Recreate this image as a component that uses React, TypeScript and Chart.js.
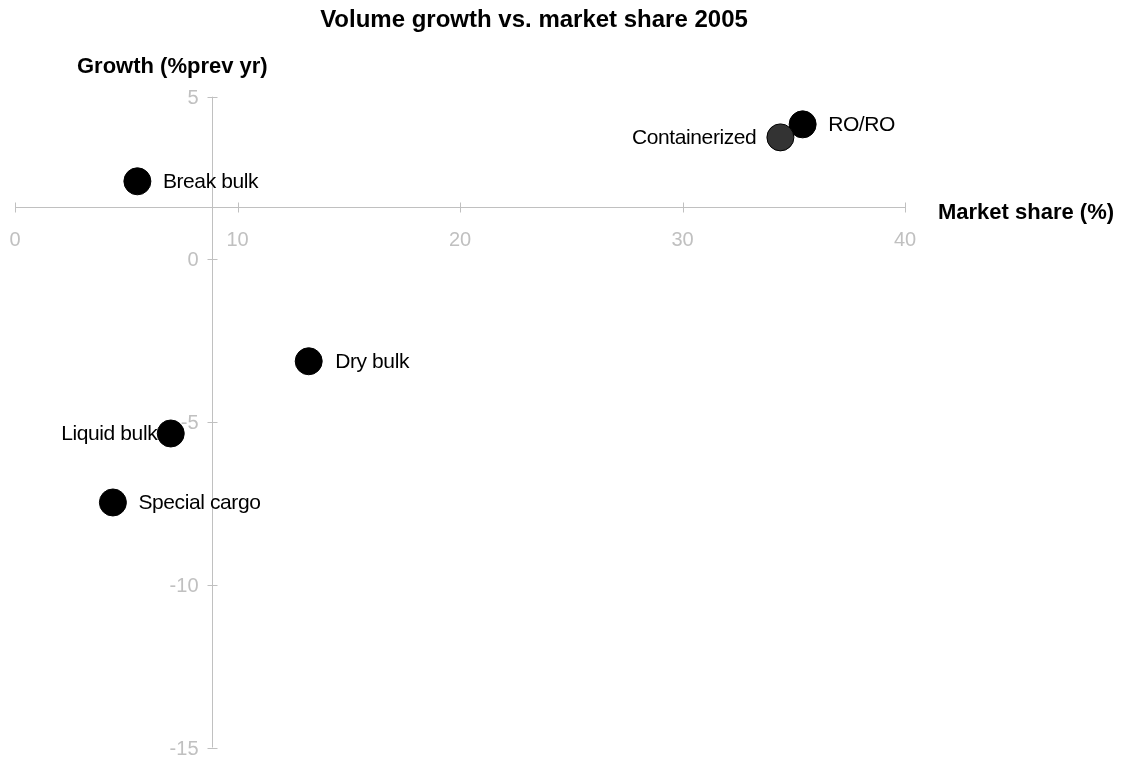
import React, { useEffect, useRef } from "react";
import { Chart, registerables } from "chart.js";

Chart.register(...registerables);

// ---- data ----
const categories = ["Break bulk", "RO/RO", "Containerized", "Dry bulk", "Liquid bulk", "Special cargo"];
const marketShare = [5.5, 35.4, 34.4, 13.2, 7.0, 4.4];
const growth = [2.4, 4.15, 3.75, -3.13, -5.35, -7.47];
const pointColors = ["#000000", "#000000", "#333333", "#000000", "#000000", "#000000"];
const xTicks = [0, 10, 20, 30, 40];
const yTicks = [5, 0, -5, -10, -15];
const xAxisCrossesAtGrowth = 1.6;
const yAxisCrossesAtShare = 8.85;
const titleText = "Volume growth vs. market share 2005";
const xTitleText = "Market share (%)";
const yTitleText = "Growth (%prev yr)";

// ---- label placement (style) ----
const labelSide = ["right", "right", "left", "right", "left", "right"];
const labelGap = [25.5, 25.5, 24, 26.5, 13.5, 25.5];

const AXIS_COLOR = "#c0c0c0";
const TEXT_FONT = "'Liberation Sans', Arial, sans-serif";

const overlayPlugin = {
  id: "overlay",
  beforeDatasetsDraw(chart: any) {
    const ctx = chart.ctx as CanvasRenderingContext2D;
    const xs = chart.scales.x;
    const ys = chart.scales.y;
    const axisY = Math.round(ys.getPixelForValue(xAxisCrossesAtGrowth)) + 0.5;
    const axisX = Math.round(xs.getPixelForValue(yAxisCrossesAtShare)) + 0.5;
    ctx.save();
    ctx.strokeStyle = AXIS_COLOR;
    ctx.lineWidth = 1;
    // x axis line
    ctx.beginPath();
    ctx.moveTo(xs.getPixelForValue(xTicks[0]), axisY);
    ctx.lineTo(xs.getPixelForValue(xTicks[xTicks.length - 1]), axisY);
    ctx.stroke();
    xTicks.forEach((t) => {
      const px = Math.round(xs.getPixelForValue(t)) + 0.5;
      ctx.beginPath();
      ctx.moveTo(px, axisY - 5);
      ctx.lineTo(px, axisY + 5);
      ctx.stroke();
    });
    // y axis line
    ctx.beginPath();
    ctx.moveTo(axisX, ys.getPixelForValue(yTicks[0]));
    ctx.lineTo(axisX, ys.getPixelForValue(yTicks[yTicks.length - 1]));
    ctx.stroke();
    yTicks.forEach((t) => {
      const py = Math.round(ys.getPixelForValue(t)) + 0.5;
      ctx.beginPath();
      ctx.moveTo(axisX - 5, py);
      ctx.lineTo(axisX + 5, py);
      ctx.stroke();
    });
    // tick labels
    ctx.fillStyle = AXIS_COLOR;
    ctx.font = `20px ${TEXT_FONT}`;
    ctx.textBaseline = "alphabetic";
    ctx.textAlign = "center";
    xTicks.forEach((t) => {
      ctx.fillText(String(t), xs.getPixelForValue(t), axisY + 38);
    });
    ctx.textAlign = "right";
    yTicks.forEach((t) => {
      ctx.fillText(String(t), axisX - 14, ys.getPixelForValue(t) + 7);
    });
    // titles
    ctx.fillStyle = "#000000";
    ctx.font = `bold 24px ${TEXT_FONT}`;
    ctx.textAlign = "center";
    ctx.fillText(titleText, 534, 27);
    ctx.font = `bold 22px ${TEXT_FONT}`;
    ctx.textAlign = "left";
    ctx.fillText(yTitleText, 77, 73);
    ctx.fillText(xTitleText, 938, 219);
    ctx.restore();
  },
  afterDatasetsDraw(chart: any) {
    const ctx = chart.ctx as CanvasRenderingContext2D;
    const meta = chart.getDatasetMeta(0);
    ctx.save();
    ctx.fillStyle = "#000000";
    ctx.font = `21px ${TEXT_FONT}`;
    (ctx as any).letterSpacing = "-0.4px";
    ctx.textBaseline = "alphabetic";
    meta.data.forEach((el: any, i: number) => {
      const side = labelSide[i];
      ctx.textAlign = side === "left" ? "right" : "left";
      const x = side === "left" ? el.x - labelGap[i] : el.x + labelGap[i];
      ctx.fillText(categories[i], x, el.y + 7);
    });
    ctx.restore();
  },
};

export default function App() {
  const canvasRef = useRef<HTMLCanvasElement | null>(null);

  useEffect(() => {
    if (!canvasRef.current) return;
    const chart = new Chart(canvasRef.current, {
      type: "scatter",
      data: {
        datasets: [
          {
            label: "Segments",
            data: marketShare.map((v, i) => ({ x: v, y: growth[i] })),
            backgroundColor: pointColors,
            borderColor: "#000000",
            borderWidth: 1,
            pointRadius: 13.5,
            pointHoverRadius: 13.5,
            clip: false as any,
          },
        ],
      },
      options: {
        responsive: false,
        animation: false,
        devicePixelRatio: 1,
        layout: { padding: { left: 15, right: 220, top: 96.7, bottom: 9.3 } },
        plugins: {
          legend: { display: false },
          title: { display: false },
          tooltip: { enabled: false },
        },
        scales: {
          x: { type: "linear", min: 0, max: 40, display: false },
          y: { type: "linear", min: -15, max: 5, display: false },
        },
        events: [],
      },
      plugins: [overlayPlugin],
    });
    return () => chart.destroy();
  }, []);

  return (
    <div style={{ position: "absolute", left: 0, top: 0, width: 1125, height: 762, background: "#ffffff" }}>
      <canvas ref={canvasRef} width={1125} height={762} />
    </div>
  );
}
